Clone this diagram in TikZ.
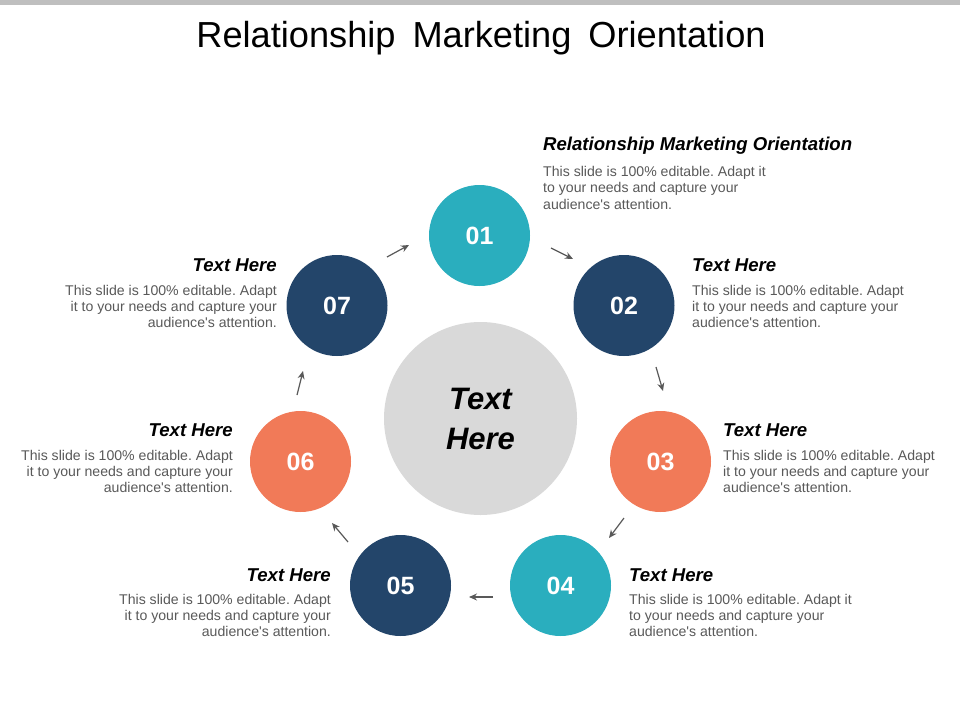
\documentclass[tikz,border=0pt]{standalone}
\usepackage{fontspec}
\setmainfont{Liberation Sans}
\usetikzlibrary{arrows.meta}
\frenchspacing
\definecolor{tealc}{RGB}{42,174,190}
\definecolor{navyc}{RGB}{35,69,106}
\definecolor{coralc}{RGB}{241,122,88}
\definecolor{centerc}{RGB}{217,217,217}
\definecolor{bodyc}{RGB}{89,89,89}
\definecolor{arrowc}{RGB}{89,89,89}
\definecolor{barc}{RGB}{191,191,191}
\newcommand{\aud}{audience\textquotesingle s attention.}
\tikzset{
  numcircle/.style={circle, minimum size=101pt, inner sep=0pt, text=white,
    font=\fontsize{25}{25}\selectfont\bfseries},
  flowarrow/.style={draw=arrowc, line width=1.2pt, -{Stealth[length=8pt,width=7pt]}},
  headtext/.style={inner sep=0pt, text=black, font=\fontsize{18.6}{20}\selectfont\bfseries\itshape},
  bodytext/.style={inner sep=0pt, text=bodyc, font=\fontsize{14.1}{16.2}\selectfont},
}
\begin{document}
\begin{tikzpicture}[x=1pt,y=-1pt]
\useasboundingbox (0,0) rectangle (960,720);
\fill[white] (0,0) rectangle (960,720);
\fill[barc] (0,0) rectangle (960,5);
\node[inner sep=0pt, anchor=base, font=\fontsize{36.2}{40}\selectfont] (title) at (481,47)
  {\spaceskip=17pt Relationship Marketing Orientation};

% center
\node[circle, fill=centerc, minimum size=193pt, inner sep=0pt, align=center,
  font=\fontsize{31}{40}\selectfont\bfseries\itshape] (center) at (480.5,418.5) {Text\\Here};

% numbered circles
\node[numcircle, fill=tealc]  (c1) at (479.5,235.5) {01};
\node[numcircle, fill=navyc]  (c2) at (624,305.5) {02};
\node[numcircle, fill=coralc] (c3) at (660.5,461.5) {03};
\node[numcircle, fill=tealc]  (c4) at (560.5,585.5) {04};
\node[numcircle, fill=navyc]  (c5) at (400.5,585.5) {05};
\node[numcircle, fill=coralc] (c6) at (300.5,461.5) {06};
\node[numcircle, fill=navyc]  (c7) at (337,305.5) {07};

% arrows
\coordinate (a1s) at (387,257); \coordinate (a1e) at (409,245);
\coordinate (a2s) at (551,248); \coordinate (a2e) at (573,259);
\coordinate (a3s) at (656,367); \coordinate (a3e) at (663,391);
\coordinate (a4s) at (624,518); \coordinate (a4e) at (609,538);
\coordinate (a5s) at (493,597); \coordinate (a5e) at (469,597);
\coordinate (a6s) at (348,542); \coordinate (a6e) at (332,523);
\coordinate (a7s) at (297,395); \coordinate (a7e) at (303,371);
\foreach \i in {1,...,7} \draw[flowarrow] (a\i s) -- (a\i e);

% text blocks (body nodes anchored at the baseline of their last line)
% 01
\node[headtext, anchor=base west] (h1) at (543,150) {Relationship Marketing Orientation};
\node[bodytext, anchor=base west, align=left] (b1) at (543,209)
  {This slide is 100\% editable. Adapt it\\to your needs and capture your\\\aud};
% 02
\node[headtext, anchor=base west] (h2) at (692,271) {Text Here};
\node[bodytext, anchor=base west, align=left] (b2) at (692,327.5)
  {This slide is 100\% editable. Adapt\\it to your needs and capture your\\\aud};
% 03
\node[headtext, anchor=base west] (h3) at (723,436) {Text Here};
\node[bodytext, anchor=base west, align=left] (b3) at (723,492.5)
  {This slide is 100\% editable. Adapt\\it to your needs and capture your\\\aud};
% 04
\node[headtext, anchor=base west] (h4) at (629,581) {Text Here};
\node[bodytext, anchor=base west, align=left] (b4) at (629,636.5)
  {This slide is 100\% editable. Adapt it\\to your needs and capture your\\\aud};
% 05
\node[headtext, anchor=base east] (h5) at (331,581) {Text Here};
\node[bodytext, anchor=base east, align=right] (b5) at (331,636.5)
  {This slide is 100\% editable. Adapt\\it to your needs and capture your\\\aud};
% 06
\node[headtext, anchor=base east] (h6) at (233,436) {Text Here};
\node[bodytext, anchor=base east, align=right] (b6) at (233,492.5)
  {This slide is 100\% editable. Adapt\\it to your needs and capture your\\\aud};
% 07
\node[headtext, anchor=base east] (h7) at (277,271) {Text Here};
\node[bodytext, anchor=base east, align=right] (b7) at (277,327.5)
  {This slide is 100\% editable. Adapt\\it to your needs and capture your\\\aud};
\end{tikzpicture}
\end{document}
